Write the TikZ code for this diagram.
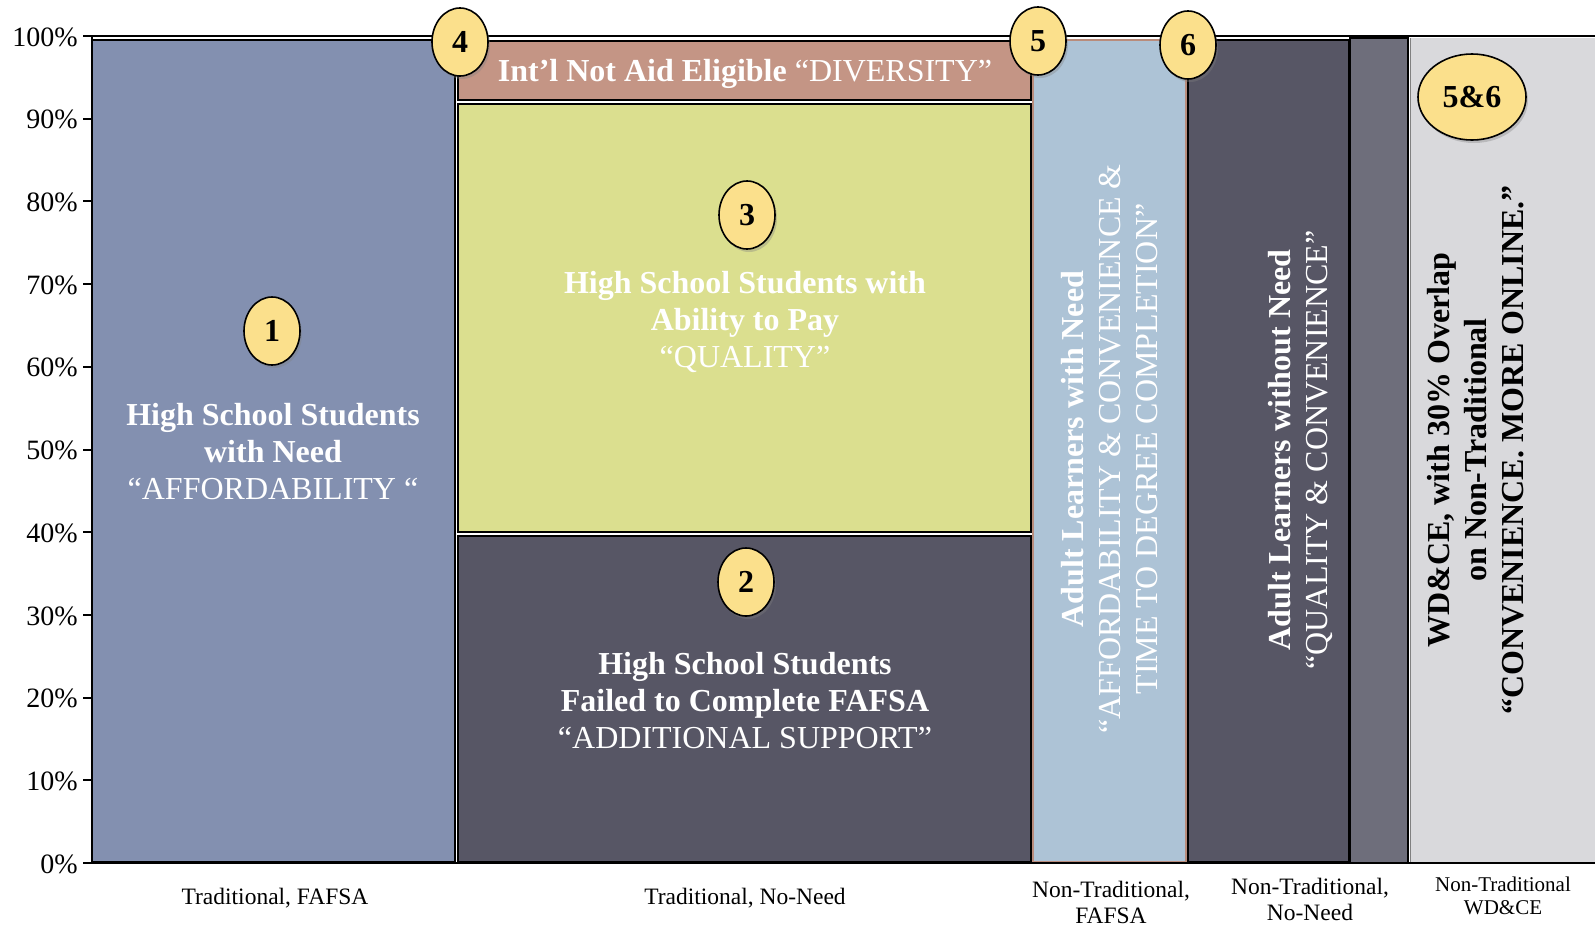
\documentclass[tikz,border=0pt]{standalone}
\usepackage{fontspec}
\setmainfont{Liberation Serif}
\usetikzlibrary{shapes.geometric,shadows}
\definecolor{cblue}{HTML}{8390B0}
\definecolor{cyel}{HTML}{DBDF8F}
\definecolor{cbrown}{HTML}{C49585}
\definecolor{cdark}{HTML}{575665}
\definecolor{clblue}{HTML}{ADC3D6}
\definecolor{cmid}{HTML}{6E6E7B}
\definecolor{clgray}{HTML}{D9D9DC}
\definecolor{cbub}{HTML}{FBE08C}
\definecolor{cbrd}{HTML}{B98C7C}
\newcommand\mybig{\fontsize{32}{37}\selectfont}
\newcommand\mysmall{\fontsize{23.5}{26}\selectfont}
\begin{document}
\begin{tikzpicture}[x=1pt,y=-1pt,
  blk/.style={draw=black,line width=2pt},
  lbl/.style={align=center,text=white,font=\mybig,inner sep=0pt},
  rlbl/.style={align=center,text=white,font=\mybig,inner sep=0pt,rotate=90},
  bub/.style={ellipse,draw=black,line width=1.6pt,fill=cbub,minimum width=56pt,minimum height=68pt,inner sep=0pt,
     font=\bfseries\fontsize{32}{32}\selectfont,
     drop shadow={opacity=0.35,shadow xshift=2pt,shadow yshift=-3pt}},
  xlab/.style={align=center,font=\mysmall,inner sep=0pt},
  ylab/.style={anchor=east,font=\fontsize{28}{28}\selectfont,inner sep=0pt},
  tick/.style={line width=2pt}]
\useasboundingbox (0,0) rectangle (1595,927);
\fill[white] (0,0) rectangle (1595,927);
% columns
\fill[clgray] (1410,38) rectangle (1595,863);
\draw[gray,line width=1pt] (1410,38) -- (1410,863);
\filldraw[fill=cmid,draw=black,line width=1.5pt] (1350,38) rectangle (1408,863);
\filldraw[blk,fill=cdark] (1188,40) rectangle (1349,862);
\filldraw[fill=clblue,draw=cbrd,line width=1.5pt] (1033,40) rectangle (1186,862);
\filldraw[blk,fill=cdark] (458,536) rectangle (1031,862);
\filldraw[blk,fill=cyel] (458,104) rectangle (1031,532);
\filldraw[blk,fill=cbrown] (458,41) rectangle (1031,100);
\filldraw[blk,fill=cblue] (92,40) rectangle (455,862);
% axes
\draw[line width=2pt] (92,36) -- (1595,36);
\draw[line width=2pt] (83,863) -- (1595,863);
\draw[line width=2pt] (92,36) -- (92,863);
\foreach \p in {0,...,10}{
  \draw[tick] (83,{863-82.7*\p}) -- (92,{863-82.7*\p});
  \node[ylab] (y\p) at (78,{864-82.7*\p}) {\the\numexpr\p*10\relax\%};
}
% texts
\node[lbl] (t1) at (273,452) {\textbf{High School Students}\\\textbf{with Need}\\“AFFORDABILITY “};
\node[lbl] (t2) at (745,701) {\textbf{High School Students}\\\textbf{Failed to Complete FAFSA}\\“ADDITIONAL SUPPORT”};
\node[lbl] (t3) at (745,322) {\textbf{High School Students with}\\\textbf{Ability to Pay}\\“QUALITY”};
\node[lbl] (t4) at (745,74) {\textbf{Int’l Not Aid Eligible} “DIVERSITY”};
\node[rlbl] (t5) at (1110,449) {\textbf{Adult Learners with Need}\\“AFFORDABILITY \& CONVENIENCE \&\\TIME TO DEGREE COMPLETION”};
\node[rlbl] (t6) at (1300,450) {\textbf{Adult Learners without Need}\\“QUALITY \& CONVENIENCE”};
\node[rlbl,text=black,font=\mybig\bfseries] (t7) at (1476,450) {WD\&CE, with 30\% Overlap\\on Non-Traditional\\“CONVENIENCE. MORE ONLINE.”};
% x labels
\node[xlab] (x1) at (275,898) {Traditional, FAFSA};
\node[xlab] (x2) at (745,898) {Traditional, No-Need};
\node[xlab] (x3) at (1111,902) {Non-Traditional,\\FAFSA};
\node[xlab] (x4) at (1310,899) {Non-Traditional,\\No-Need};
\node[xlab,font=\fontsize{21}{23.5}\selectfont] (x5) at (1503,896) {Non-Traditional\\WD\&CE};
% bubbles
\node[bub] (b1) at (272,331) {1};
\node[bub] (b2) at (746,582) {2};
\node[bub] (b3) at (747,215) {3};
\node[bub] (b4) at (460,42) {4};
\node[bub] (b5) at (1038,41) {5};
\node[bub] (b6) at (1188,45) {6};
\node[bub,minimum width=108pt,minimum height=86pt] (b56) at (1472,97) {5\&6};
\end{tikzpicture}
\end{document}
